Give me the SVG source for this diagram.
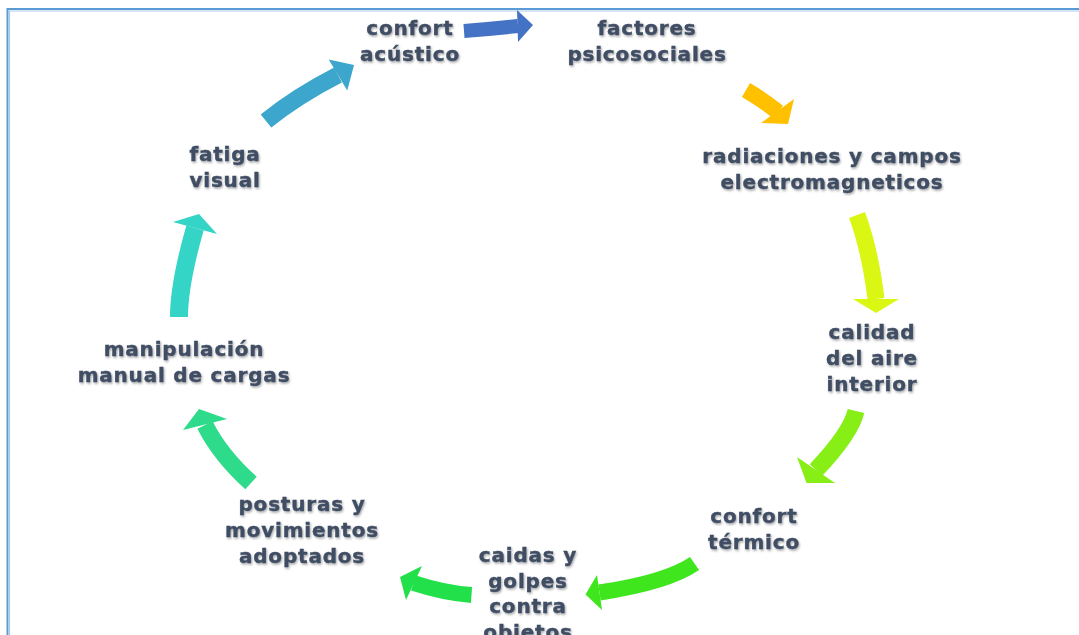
<svg xmlns="http://www.w3.org/2000/svg" width="1079" height="635" viewBox="0 0 1079 635">
<defs>
<filter id="sh" x="-10%" y="-20%" width="120%" height="140%">
<feDropShadow dx="1" dy="1.5" stdDeviation="1" flood-color="#000" flood-opacity="0.35"/>
</filter>
</defs>
<style>
.t{font-family:"DejaVu Sans",Verdana,sans-serif;font-weight:bold;font-size:20px;letter-spacing:0.8px;fill:#3F4D64;stroke:#3F4D64;stroke-width:0.4px;text-anchor:middle;filter:url(#sh)}
.s{fill:none;stroke-linecap:butt}
</style>
<rect x="0" y="0" width="1079" height="635" fill="#ffffff"/>
<g id="frame">
<path d="M7.5,640 V9 H1085" fill="none" stroke="#5B9BD5" stroke-width="2"/>
<path d="M9.5,640 V11 H1085" fill="none" stroke="#A9CBEB" stroke-width="1.2"/>
</g>
<g id="connectors">
<g id="arrow-1">
<path class="s" d="M464,31 Q490,29 518,26" stroke="#4472C4" stroke-width="14"/>
<polygon points="517,10 533,25 518,42" fill="#4472C4"/>
</g>
<g id="arrow-2">
<path class="s" d="M266,121 Q297,96 338,75" stroke="#3DA6CC" stroke-width="17"/>
<polygon points="328.7,59.6 354,65 347.3,90.4" fill="#3DA6CC"/>
</g>
<g id="arrow-3">
<path class="s" d="M746,90 Q763,100 778,112" stroke="#FFC000" stroke-width="16"/>
<polygon points="794,99 788,124 761,123" fill="#FFC000"/>
</g>
<g id="arrow-4">
<path class="s" d="M857,215 Q870,250 876,299" stroke="#DAF714" stroke-width="17"/>
<polygon points="853,299 899,299 876,313" fill="#DAF714"/>
</g>
<g id="arrow-5">
<path class="s" d="M856,411 Q851,433 816,470" stroke="#87EE16" stroke-width="17"/>
<polygon points="797,457 835,483 806.5,483" fill="#87EE16"/>
</g>
<g id="arrow-6">
<path class="s" d="M694.5,563.5 Q667.6,582.2 599.5,592.5" stroke="#3FE61E" stroke-width="16"/>
<polygon points="597,575 585.5,594.6 602,610" fill="#3FE61E"/>
</g>
<g id="arrow-7">
<path class="s" d="M471.5,595 Q444,593 413.5,583" stroke="#22E04A" stroke-width="16"/>
<polygon points="422,566 400,577 406,600" fill="#22E04A"/>
</g>
<g id="arrow-8">
<path class="s" d="M251,483 Q220,455 205,425" stroke="#2DDB8A" stroke-width="17"/>
<polygon points="183,430 199,409 227,419" fill="#2DDB8A"/>
</g>
<g id="arrow-9">
<path class="s" d="M179,317 Q179,284 195,228" stroke="#34D4C6" stroke-width="18"/>
<polygon points="173,222 199,214 217,234" fill="#34D4C6"/>
</g>
</g>
<g id="node-confort-acustico">
<text class="t" x="410" y="35">confort</text>
<text class="t" x="410" y="61">acústico</text>
</g>
<g id="node-factores">
<text class="t" x="647" y="35">factores</text>
<text class="t" x="647" y="61">psicosociales</text>
</g>
<g id="node-radiaciones">
<text class="t" x="832" y="163">radiaciones y campos</text>
<text class="t" x="832" y="189">electromagneticos</text>
</g>
<g id="node-calidad">
<text class="t" x="872" y="339">calidad</text>
<text class="t" x="872" y="365">del aire</text>
<text class="t" x="872" y="391">interior</text>
</g>
<g id="node-confort-termico">
<text class="t" x="754" y="523">confort</text>
<text class="t" x="754" y="549">térmico</text>
</g>
<g id="node-caidas">
<text class="t" x="528" y="562">caidas y</text>
<text class="t" x="528" y="588">golpes</text>
<text class="t" x="528" y="613">contra</text>
<text class="t" x="528" y="639">objetos</text>
</g>
<g id="node-posturas">
<text class="t" x="302" y="511">posturas y</text>
<text class="t" x="302" y="537">movimientos</text>
<text class="t" x="302" y="563">adoptados</text>
</g>
<g id="node-manipulacion">
<text class="t" x="184" y="356">manipulación</text>
<text class="t" x="184" y="382">manual de cargas</text>
</g>
<g id="node-fatiga">
<text class="t" x="225" y="161">fatiga</text>
<text class="t" x="225" y="187">visual</text>
</g>
</svg>
